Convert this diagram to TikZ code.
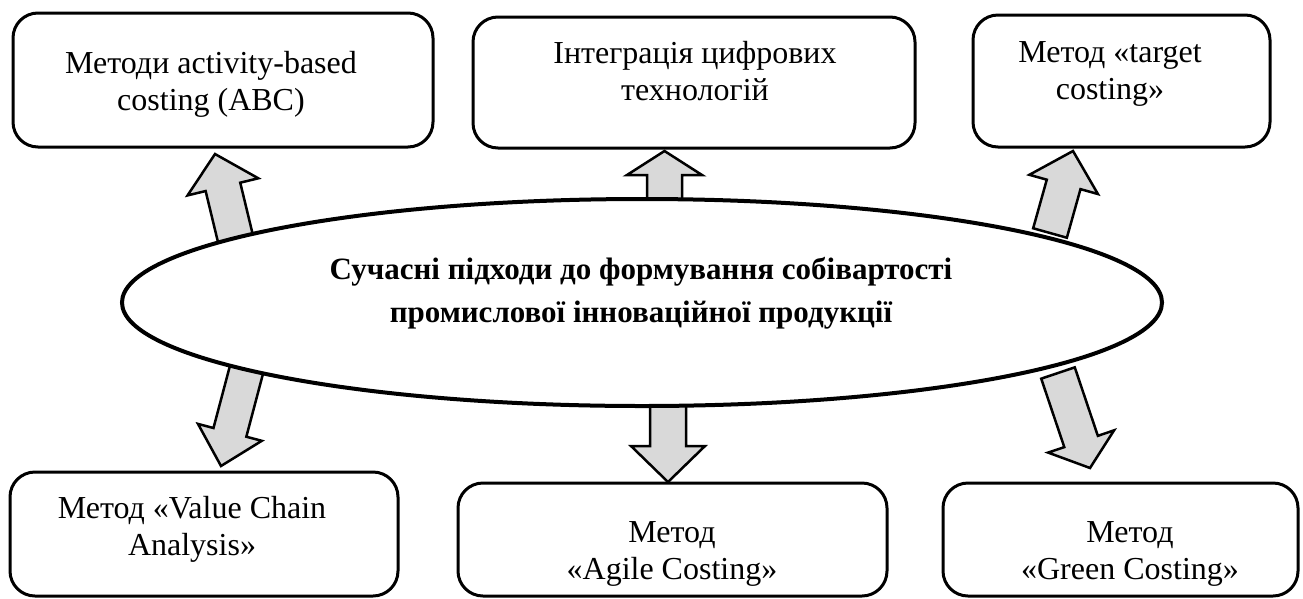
\documentclass[tikz,border=0pt]{standalone}
\usepackage{fontspec}
\setmainfont{Liberation Serif}
\usetikzlibrary{calc,shapes.geometric}
\definecolor{arrowgrey}{RGB}{217,217,217}
\tikzset{
  box/.style={draw, line width=3pt, rounded corners=25pt, fill=white, inner sep=0pt, outer sep=0pt},
  boxtext/.style={align=center, anchor=base, inner sep=0pt, font=\fontsize{32}{37.5}\selectfont},
  maintext/.style={align=center, anchor=base, inner sep=0pt, font=\fontsize{31}{43}\selectfont\bfseries},
  blockarr/.style={draw, line width=2.5pt, fill=arrowgrey, line join=miter},
  oval/.style={ellipse, draw, line width=4pt, fill=white, inner sep=0pt, outer sep=0pt}
}
% #1 base, #2 tip, #3 shaft half width, #4 head half width, #5 head length
\newcommand\blockarrow[5]{%
  \coordinate (bahead) at ($(#2)!#5!(#1)$);
  \draw[blockarr] ($(#1)!#3!90:(#2)$) -- ($(bahead)!#3!90:(#2)$) -- ($(bahead)!#4!90:(#2)$)
    -- (#2) -- ($(bahead)!#4!-90:(#2)$) -- ($(bahead)!#3!-90:(#2)$) -- ($(#1)!#3!-90:(#2)$) -- cycle;
}
\begin{document}
\begin{tikzpicture}[x=1pt,y=-1pt]
\useasboundingbox (0,0) rectangle (1303,598);
% boxes
\node[box, minimum width=420pt, minimum height=134pt] (b1) at (223,80) {};
\node[box, minimum width=442pt, minimum height=131pt] (b2) at (694,82.5) {};
\node[box, minimum width=297pt, minimum height=132pt] (b3) at (1121.5,81) {};
\node[box, minimum width=388pt, minimum height=124pt] (b4) at (204,534) {};
\node[box, minimum width=429pt, minimum height=113pt] (b5) at (672.5,539.5) {};
\node[box, minimum width=355pt, minimum height=113pt] (b6) at (1120.5,539.5) {};
% texts (anchor=base is the baseline of the last line)
\node[boxtext] (t1) at (211,110.5) {Методи activity-based\\costing (ABC)};
\node[boxtext] (t2) at (695,100.5) {Інтеграція цифрових\\технологій};
\node[boxtext] (t3) at (1110,99.5) {Метод «target\\costing»};
\node[boxtext] (t4) at (192,555.5) {Метод «Value Chain\\Analysis»};
\node[boxtext] (t5) at (672,579.5) {Метод\\«Agile Costing»};
\node[boxtext] (t6) at (1130,579.5) {Метод\\«Green Costing»};
% arrow end points
\coordinate (a1b) at (237,245); \coordinate (a1t) at (215,154);
\coordinate (a2b) at (664.5,207); \coordinate (a2t) at (664.5,151);
\coordinate (a3b) at (1050,233); \coordinate (a3t) at (1073,151);
\coordinate (a4b) at (248,364); \coordinate (a4t) at (221,466);
\coordinate (a5b) at (668,398); \coordinate (a5t) at (668,482);
\coordinate (a6b) at (1058,373); \coordinate (a6t) at (1090,468);
\blockarrow{a1b}{a1t}{17.8pt}{36.4pt}{33.8pt}
\blockarrow{a2b}{a2t}{17.5pt}{37.5pt}{24pt}
\blockarrow{a3b}{a3t}{17.5pt}{35.6pt}{34.7pt}
\blockarrow{a4b}{a4t}{17pt}{33pt}{34.8pt}
\blockarrow{a5b}{a5t}{18pt}{37pt}{36pt}
\blockarrow{a6b}{a6t}{17.7pt}{34.8pt}{28pt}
% central ellipse
\node[oval, minimum width=1040pt, minimum height=207pt] (e) at (642,302.5) {};
\node[maintext] (et) at (641,322) {Сучасні підходи до формування собівартості\\промислової інноваційної продукції};
\end{tikzpicture}
\end{document}
